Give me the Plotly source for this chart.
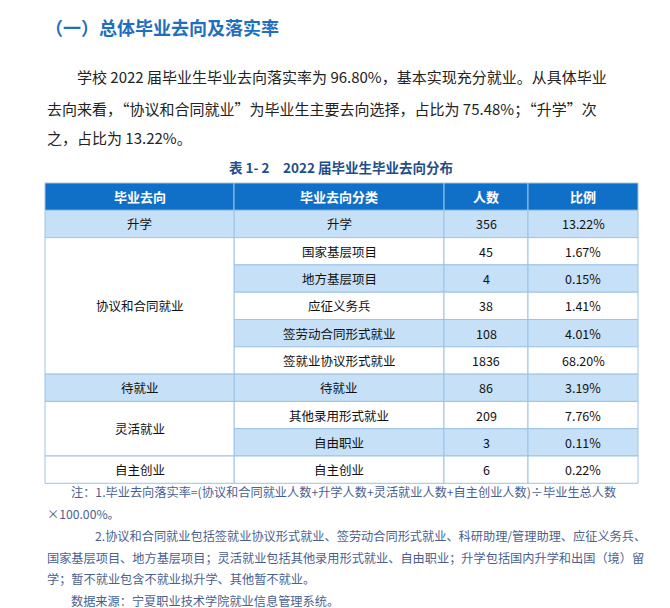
import plotly.graph_objects as go

headers = ["毕业去向", "毕业去向分类", "人数", "比例"]
categories = ["升学", "国家基层项目", "地方基层项目", "应征义务兵", "签劳动合同形式就业",
              "签就业协议形式就业", "待就业", "其他录用形式就业", "自由职业", "自主创业"]
counts = [356, 45, 4, 38, 108, 1836, 86, 209, 3, 6]
ratios = ["13.22%", "1.67%", "0.15%", "1.41%", "4.01%", "68.20%", "3.19%", "7.76%", "0.11%", "0.22%"]
groups = [("升学", 0, 1), ("协议和合同就业", 1, 6), ("待就业", 6, 7), ("灵活就业", 7, 9), ("自主创业", 9, 10)]

FONT = "Noto Sans CJK SC"
BLUE = "#1070C8"
LIGHT = "#C5E0F7"
BORDER = "#9DC3E6"
cols = [37, 226, 436, 520, 630]
top, rh = 175, 27.3

shapes, ann = [], []
def cell(x0, x1, y0, y1, fill):
    shapes.append(dict(type="rect", x0=x0, x1=x1, y0=y0, y1=y1, fillcolor=fill,
                       line=dict(color=BORDER, width=1), layer="below"))
def txt(x, y, s, size=12.5, color="#111", bold=False, xanchor="center"):
    ann.append(dict(x=x, y=y, text=f"<b>{s}</b>" if bold else s, showarrow=False,
                    xanchor=xanchor, yanchor="middle",
                    font=dict(family=FONT, size=size, color=color)))

for i, h in enumerate(headers):
    cell(cols[i], cols[i+1], top, top+rh, BLUE)
    txt((cols[i]+cols[i+1])/2, top+rh/2, h, 13, "white", True)
for r in range(len(categories)):
    y0 = top + rh*(r+1); y1 = y0+rh
    fill = LIGHT if r % 2 == 0 else "white"
    vals = [categories[r], str(counts[r]), ratios[r]]
    for c in range(1, 4):
        cell(cols[c], cols[c+1], y0, y1, fill)
        txt((cols[c]+cols[c+1])/2, (y0+y1)/2, vals[c-1])
for name, a, b in groups:
    y0 = top + rh*(a+1); y1 = top + rh*(b+1)
    cell(cols[0], cols[1], y0, y1, LIGHT if a % 2 == 0 else "white")
    txt((cols[0]+cols[1])/2, (y0+y1)/2, name)

txt(35, 19, "（一）总体毕业去向及落实率", 18, "#1F6FC0", True, "left")
para = ["学校 2022 届毕业生毕业去向落实率为 96.80%，基本实现充分就业。从具体毕业",
        "去向来看，“协议和合同就业”为毕业生主要去向选择，占比为 75.48%；“升学”次",
        "之，占比为 13.22%。"]
txt(67, 68, para[0], 15, "#222", False, "left")
txt(37, 100, para[1], 15, "#222", False, "left")
txt(37, 129, para[2], 15, "#222", False, "left")
txt(333, 159, "表 1- 2　2022 届毕业生毕业去向分布", 13.5, "#1F4E8C", True)
NOTE = "#4A5F8F"
notes = [(61, 484, "注：1.毕业去向落实率=(协议和合同就业人数+升学人数+灵活就业人数+自主创业人数)÷毕业生总人数"),
         (37, 506, "×100.00%。"),
         (85, 528, "2.协议和合同就业包括签就业协议形式就业、签劳动合同形式就业、科研助理/管理助理、应征义务兵、"),
         (37, 550, "国家基层项目、地方基层项目；灵活就业包括其他录用形式就业、自由职业；升学包括国内升学和出国（境）留"),
         (37, 571, "学；暂不就业包含不就业拟升学、其他暂不就业。"),
         (61, 593, "数据来源：宁夏职业技术学院就业信息管理系统。")]
for x, y, s in notes:
    txt(x, y, s, 12.2, NOTE, False, "left")

fig = go.Figure()
fig.update_layout(width=670, height=608, margin=dict(l=0, r=0, t=0, b=0),
                  paper_bgcolor="white", plot_bgcolor="white",
                  xaxis=dict(range=[0, 670], visible=False, fixedrange=True),
                  yaxis=dict(range=[608, 0], visible=False, fixedrange=True),
                  shapes=shapes, annotations=ann, showlegend=False)
fig.write_html("out.html")
